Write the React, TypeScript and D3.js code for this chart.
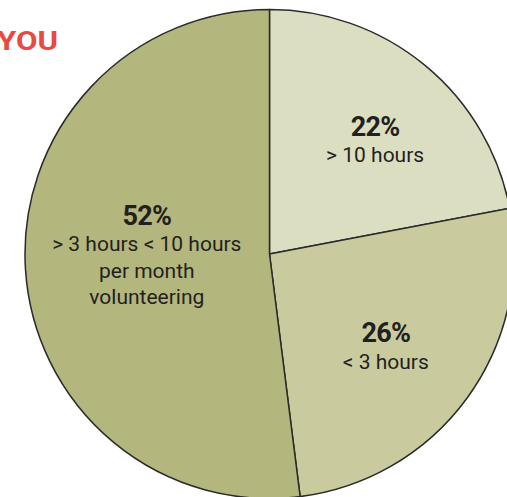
import React, { useEffect, useRef } from 'react';
import * as d3 from 'd3';

const CATEGORIES = ['> 10 hours', '< 3 hours', '> 3 hours < 10 hours per month volunteering'];
const VALUES = [22, 26, 52];
const LABEL_LINES = [['> 10 hours'], ['< 3 hours'], ['> 3 hours < 10 hours', 'per month', 'volunteering']];
const COLORS = ['#dcdec1', '#c9cb9e', '#b3b67d'];

const W = 507;
const H = 497;

const App: React.FC = () => {
  const svgRef = useRef<SVGSVGElement>(null);

  useEffect(() => {
    document.body.style.margin = '0';
    if (!svgRef.current) return;
    const svg = d3.select(svgRef.current);
    svg.selectAll('*').remove();

    const cx = 269.5;
    const cy = 254;
    const r = 244.5;

    // heading fragment, clipped at the left edge in the original
    svg.append('text')
      .attr('x', -3)
      .attr('y', 50)
      .attr('fill', '#e84a3f')
      .attr('font-family', 'Roboto, Arial, sans-serif')
      .attr('font-weight', 'bold')
      .attr('font-size', 25)
      .attr('textLength', 61)
      .attr('lengthAdjust', 'spacingAndGlyphs')
      .text('YOU');

    const pie = d3.pie<number>().sort(null).value(d => d);
    const arcs = pie(VALUES);
    const arc = d3.arc<d3.PieArcDatum<number>>().innerRadius(0).outerRadius(r);

    const g = svg.append('g').attr('transform', `translate(${cx},${cy})`);

    g.selectAll('path.slice')
      .data(arcs)
      .enter()
      .append('path')
      .attr('class', 'slice')
      .attr('d', arc)
      .attr('fill', (d, i) => COLORS[i])
      .attr('stroke', '#2a2a2a')
      .attr('stroke-width', 1.5)
      .attr('stroke-linejoin', 'round');

    // label anchor: centroid of a wider arc, nudged per slice
    const labelArc = d3.arc<d3.PieArcDatum<number>>().innerRadius(0).outerRadius(300);
    const nudge = [[10, -2.5], [-5, 0], [27, -38.5]];

    arcs.forEach((a, i) => {
      const [x, y] = labelArc.centroid(a);
      const lx = x + nudge[i][0];
      const ly = y + nudge[i][1];
      const t = g.append('text')
        .attr('text-anchor', 'middle')
        .attr('fill', '#231f20')
        .attr('font-family', 'Roboto, sans-serif')
        .attr('aria-label', `${VALUES[i]}% ${CATEGORIES[i]}`);
      t.append('tspan')
        .attr('x', lx)
        .attr('y', ly)
        .attr('font-weight', 'bold')
        .attr('font-size', 27)
        .attr('letter-spacing', -0.8)
        .text(`${VALUES[i]}%`);
      LABEL_LINES[i].forEach((line, j) => {
        t.append('tspan')
          .attr('x', lx)
          .attr('y', ly + 26.5 * (j + 1))
          .attr('font-size', 21)
          .text(line);
      });
    });
  }, []);

  return <svg ref={svgRef} width={W} height={H} style={{ display: 'block', background: '#fff' }} />;
};

export default App;
